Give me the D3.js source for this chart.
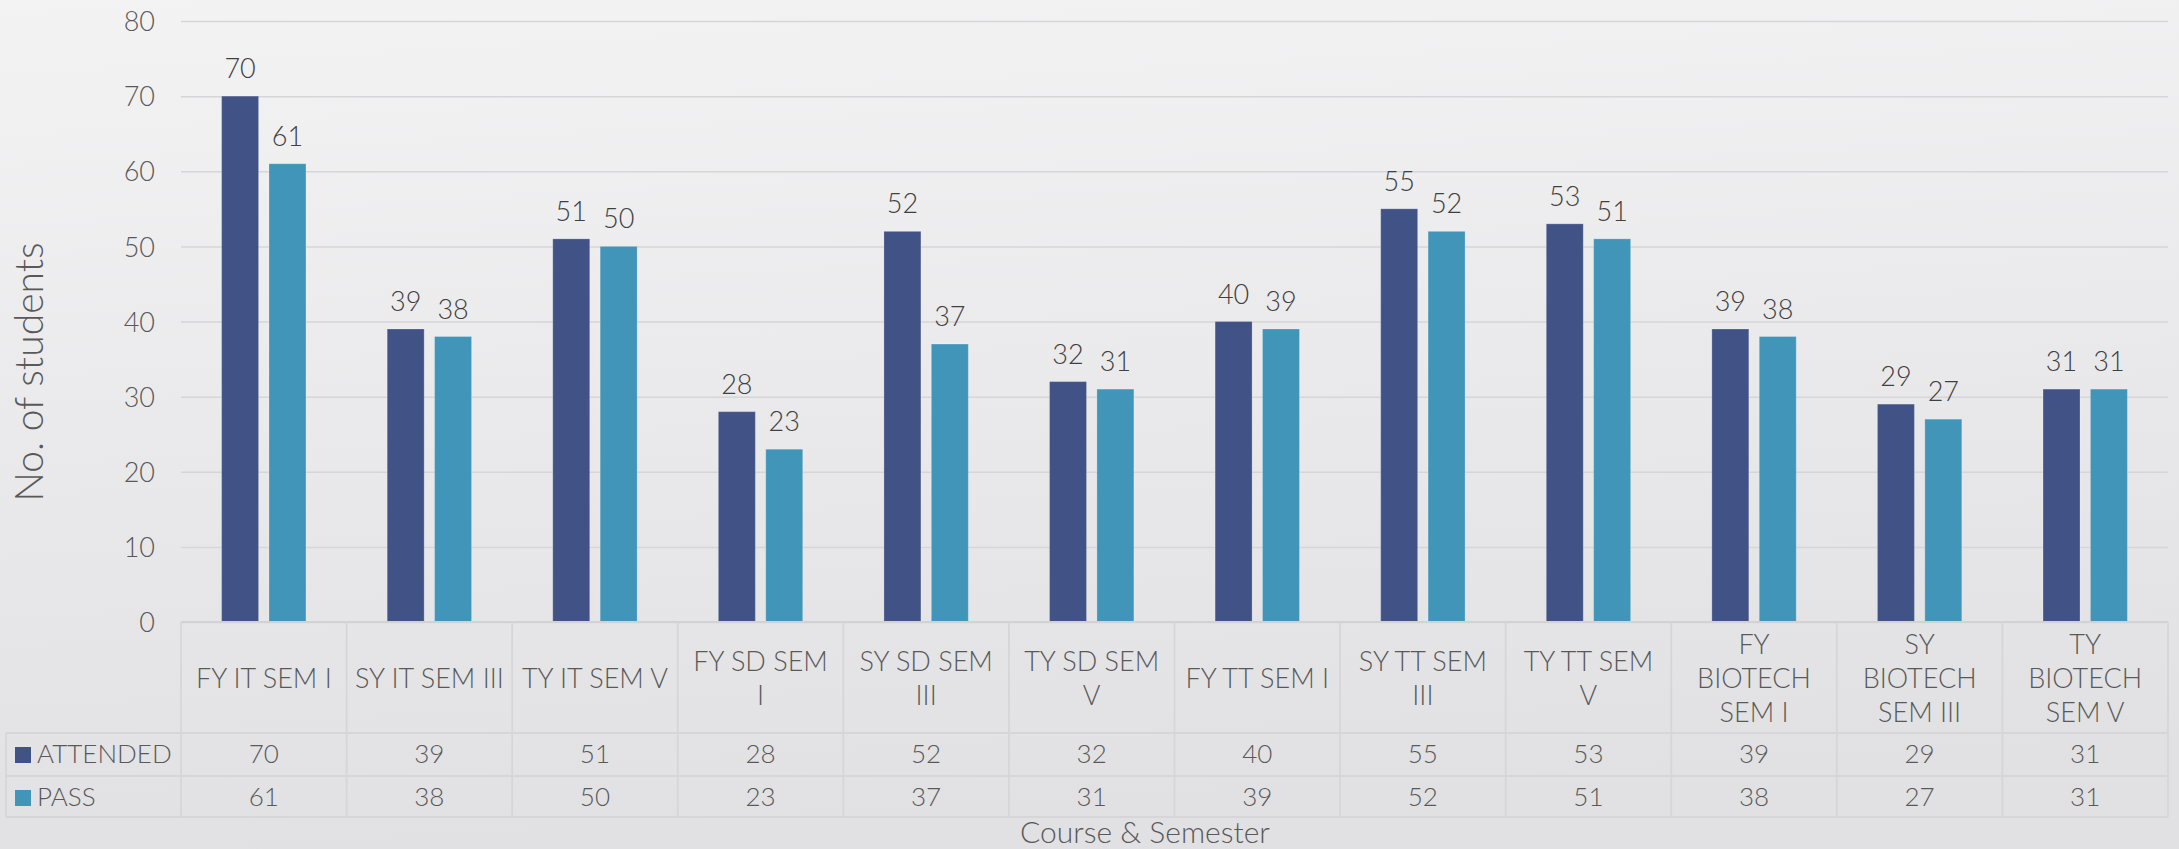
<!DOCTYPE html>
<html>
<head>
<meta charset="utf-8">
<script src="https://cdn.jsdelivr.net/npm/d3@7"></script>
<style>
  html, body { margin: 0; padding: 0; background: #e9e9eb; }
  svg { display: block; }
  text { font-family: Lato, "Open Sans", sans-serif; font-weight: 300; }
</style>
</head>
<body>
<svg id="chart" width="2179" height="849"></svg>
<script>
// Course & semester categories, with the line breaks used in the table header
const categories = [
  "FY IT SEM I", "SY IT SEM III", "TY IT SEM V",
  "FY SD SEM I", "SY SD SEM III", "TY SD SEM V",
  "FY TT SEM I", "SY TT SEM III", "TY TT SEM V",
  "FY BIOTECH SEM I", "SY BIOTECH SEM III", "TY BIOTECH SEM V"
];
const categoryLines = [
  ["FY IT SEM I"], ["SY IT SEM III"], ["TY IT SEM V"],
  ["FY SD SEM", "I"], ["SY SD SEM", "III"], ["TY SD SEM", "V"],
  ["FY TT SEM I"], ["SY TT SEM", "III"], ["TY TT SEM", "V"],
  ["FY", "BIOTECH", "SEM I"], ["SY", "BIOTECH", "SEM III"], ["TY", "BIOTECH", "SEM V"]
];

// Series
const seriesNames = ["ATTENDED", "PASS"];
const attended = [70, 39, 51, 28, 52, 32, 40, 55, 53, 39, 29, 31];
const pass     = [61, 38, 50, 23, 37, 31, 39, 52, 51, 38, 27, 31];
const seriesValues = [attended, pass];
const seriesColors = ["#415386", "#4095b9"];

// Value axis ticks
const yTicks = [0, 10, 20, 30, 40, 50, 60, 70, 80];

const svg = d3.select("#chart");
const W = 2179, H = 849;

// Background gradient
const defs = svg.append("defs");
const bg = defs.append("linearGradient").attr("id", "bg")
  .attr("x1", 0).attr("y1", 0).attr("x2", 0.15).attr("y2", 1);
bg.append("stop").attr("offset", "0%").attr("stop-color", "#f3f3f4");
bg.append("stop").attr("offset", "100%").attr("stop-color", "#e1e1e3");
svg.append("rect").attr("width", W).attr("height", H).attr("fill", "url(#bg)");

// Layout
const plotLeft = 181, plotRight = 2168, plotTop = 21, plotBottom = 622;
const headerBottom = 733, row1Bottom = 776, row2Bottom = 817, legendLeft = 6;

const x = d3.scaleBand().domain(categories).range([plotLeft, plotRight]).padding(0);
const xs = d3.scaleBand().domain(seriesNames).range([0, x.bandwidth()])
  .paddingInner(0.22).paddingOuter(0.857);
const y = d3.scaleLinear().domain([0, 80]).range([plotBottom, plotTop]);

const textColor = "#595959";
const lineColor = "#d6d6d8";

// Gridlines and tick labels
const yAxis = d3.axisLeft(y).tickValues(yTicks).tickSize(-(plotRight - plotLeft)).tickPadding(26);
const gy = svg.append("g").attr("transform", `translate(${plotLeft},0)`).call(yAxis);
gy.select(".domain").remove();
gy.selectAll(".tick line").attr("stroke", lineColor).attr("stroke-width", 1.5);
gy.selectAll(".tick text").attr("fill", textColor).attr("font-size", 27)
  .attr("dy", "0.36em");

// Bars
const groups = svg.append("g").selectAll("g")
  .data(categories)
  .join("g")
  .attr("transform", d => `translate(${x(d)},0)`);

groups.selectAll("rect")
  .data((d, i) => seriesNames.map((s, k) => ({ s, k, v: seriesValues[k][i] })))
  .join("rect")
  .attr("x", d => xs(d.s))
  .attr("width", xs.bandwidth())
  .attr("y", d => y(d.v))
  .attr("height", d => y(0) - y(d.v))
  .attr("fill", d => seriesColors[d.k])
  .attr("stroke", "rgba(255,255,255,0.22)")
  .attr("stroke-width", 1);

// Value labels above bars
groups.selectAll("text.val")
  .data((d, i) => seriesNames.map((s, k) => ({ s, k, v: seriesValues[k][i] })))
  .join("text")
  .attr("class", "val")
  .attr("x", d => xs(d.s) + xs.bandwidth() / 2)
  .attr("y", d => y(d.v) - 18)
  .attr("text-anchor", "middle")
  .attr("font-size", 27)
  .attr("fill", "#404040")
  .text(d => d.v);

// Data table grid
const grid = svg.append("g").attr("stroke", lineColor).attr("stroke-width", 1.8).attr("fill", "none");
grid.append("line").attr("x1", plotLeft).attr("x2", plotRight).attr("y1", plotBottom).attr("y2", plotBottom)
  .attr("stroke", "#d2d2d4").attr("stroke-width", 2);
[headerBottom, row1Bottom, row2Bottom].forEach(yy => {
  grid.append("line").attr("x1", legendLeft).attr("x2", plotRight).attr("y1", yy).attr("y2", yy);
});
grid.append("line").attr("x1", legendLeft).attr("x2", legendLeft).attr("y1", headerBottom).attr("y2", row2Bottom);
categories.forEach(c => {
  grid.append("line").attr("x1", x(c)).attr("x2", x(c)).attr("y1", plotBottom).attr("y2", row2Bottom);
});
grid.append("line").attr("x1", plotRight).attr("x2", plotRight).attr("y1", plotBottom).attr("y2", row2Bottom);

// Category header labels, centred in the header cells
const lineStep = 34;
const headerMid = 688;
svg.append("g").selectAll("text")
  .data(categories)
  .join("text")
  .attr("text-anchor", "middle")
  .attr("font-size", 27)
  .attr("fill", textColor)
  .each(function (d, i) {
    const lines = categoryLines[i];
    const first = headerMid - (lines.length - 1) * lineStep / 2;
    d3.select(this).selectAll("tspan")
      .data(lines)
      .join("tspan")
      .attr("x", x(d) + x.bandwidth() / 2)
      .attr("y", (l, j) => first + j * lineStep)
      .text(l => l);
  });

// Table rows: legend key + values
const rowBaselines = [763, 806];
seriesNames.forEach((s, k) => {
  const g = svg.append("g");
  g.append("rect").attr("x", 15).attr("y", rowBaselines[k] - 16).attr("width", 16).attr("height", 16)
    .attr("fill", seriesColors[k]);
  g.append("text").attr("x", 37).attr("y", rowBaselines[k])
    .attr("font-size", 26).attr("fill", textColor).text(s);
  g.selectAll("text.cell")
    .data(seriesValues[k])
    .join("text")
    .attr("class", "cell")
    .attr("x", (v, i) => x(categories[i]) + x.bandwidth() / 2)
    .attr("y", rowBaselines[k])
    .attr("text-anchor", "middle")
    .attr("font-size", 26)
    .attr("fill", textColor)
    .text(v => v);
});

// Axis titles
svg.append("text")
  .attr("transform", `translate(43,372) rotate(-90)`)
  .attr("text-anchor", "middle")
  .attr("font-size", 39)
  .attr("fill", textColor)
  .text("No. of students");

svg.append("text")
  .attr("x", 1145).attr("y", 843)
  .attr("text-anchor", "middle")
  .attr("font-size", 30)
  .attr("fill", textColor)
  .text("Course & Semester");
</script>
</body>
</html>
